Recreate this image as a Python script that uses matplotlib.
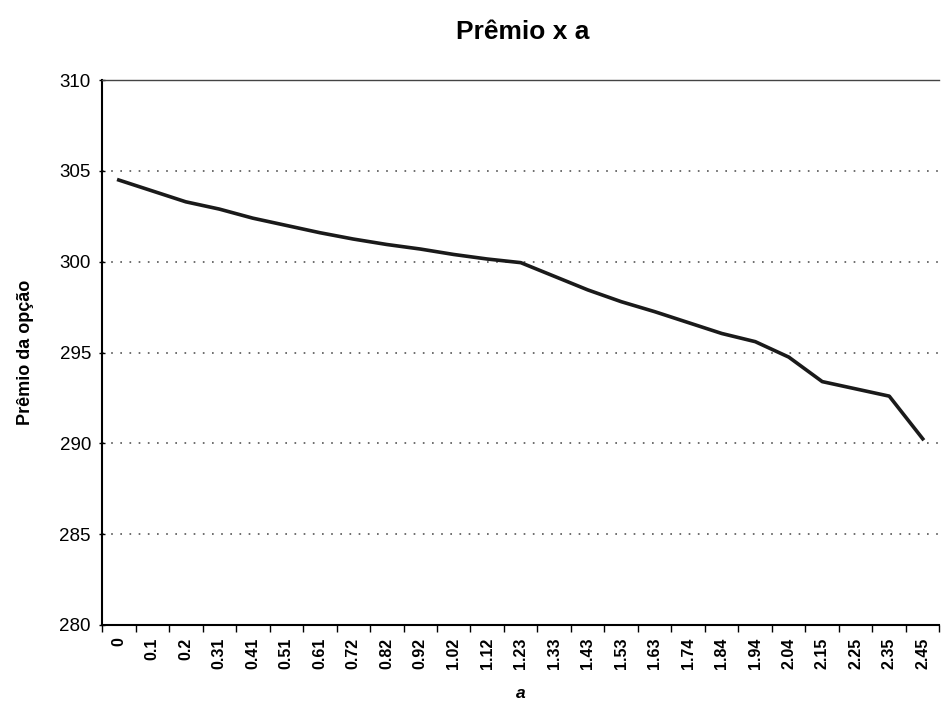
import numpy as np
import matplotlib.pyplot as plt

plt.rcParams['font.family'] = ['Liberation Sans', 'DejaVu Sans']

a_labels = ['0', '0.1', '0.2', '0.31', '0.41', '0.51', '0.61', '0.72', '0.82', '0.92',
            '1.02', '1.12', '1.23', '1.33', '1.43', '1.53', '1.63', '1.74', '1.84', '1.94',
            '2.04', '2.15', '2.25', '2.35', '2.45']
premio = [304.5, 303.9, 303.3, 302.9, 302.4, 302.0, 301.6, 301.25, 300.95, 300.7,
          300.4, 300.15, 299.95, 299.2, 298.45, 297.8, 297.25, 296.65, 296.05, 295.6,
          294.75, 293.4, 293.0, 292.6, 290.25]

x = np.arange(len(a_labels))

fig = plt.figure(figsize=(9.41, 7.09), dpi=100)
ax = fig.add_axes([0.1084, 0.1185, 0.89, 0.7685])

ax.plot(x, premio, color='#1a1a1a', lw=2.6, solid_joinstyle='round')

ax.set_ylim(280, 310)
ax.set_yticks(np.arange(280, 311, 5))
ax.set_xlim(-0.5, len(a_labels) - 0.5)

# tick marks between categories, labels at the centres
ax.set_xticks(np.arange(len(a_labels) + 1) - 0.5)
ax.set_xticklabels([])
ax.set_xticks(x, minor=True)
ax.set_xticklabels(a_labels, minor=True, rotation=90, fontsize=11.5, fontweight='bold')
ax.tick_params(axis='x', which='minor', length=0, pad=9)
ax.tick_params(axis='x', which='major', length=5, width=1)
ax.tick_params(axis='y', length=4, width=1, labelsize=13.5, direction='inout', pad=6)

for yv in [285, 290, 295, 300, 305]:
    ax.axhline(yv, color='#555555', lw=1.2, ls=(0, (1, 4.5)), zorder=0)

ax.spines['left'].set_linewidth(1.5)
ax.spines['bottom'].set_linewidth(1.5)
ax.spines['top'].set_color('#444444')
ax.spines['top'].set_linewidth(1.0)
ax.spines['right'].set_visible(False)

ax.set_ylabel('Prêmio da opção', fontsize=13, fontweight='bold', labelpad=18)
ax.set_xlabel('a', fontsize=12.5, fontweight='bold', style='italic', labelpad=12)
fig.suptitle('Prêmio x a', fontsize=19, fontweight='bold', x=0.555, y=0.972)

fig.savefig('out.png', dpi=100)
